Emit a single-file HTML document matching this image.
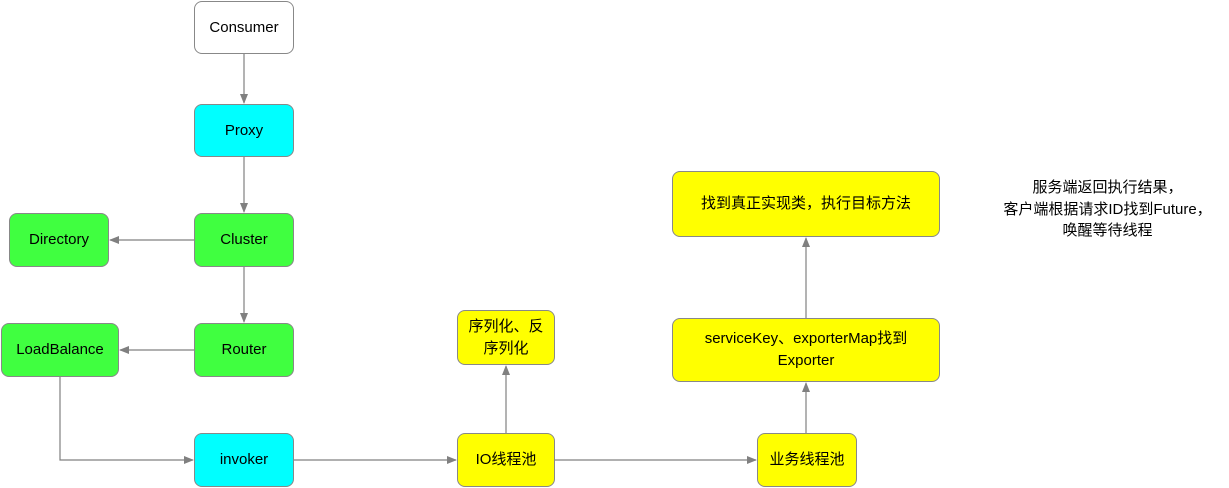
<!DOCTYPE html>
<html><head><meta charset="utf-8"><style>
body{margin:0;width:1229px;height:488px;background:#fff;position:relative;font-family:"Liberation Sans","Noto Sans CJK SC",sans-serif;overflow:hidden}
.b{position:absolute;box-sizing:border-box;border:1px solid #888;border-radius:8px;display:flex;align-items:center;justify-content:center;text-align:center;font-size:15px;color:#000;line-height:22px}
.w{background:#fff}.c{background:#00ffff}.g{background:#40ff40}.y{background:#ffff00}
svg{position:absolute;left:0;top:0}
.t{position:absolute;left:985px;top:177px;width:245px;text-align:center;font-size:15px;line-height:21.5px}
</style></head><body>
<svg width="1229" height="488">
<defs><marker id="a" markerWidth="10" markerHeight="8" refX="9" refY="4" orient="auto" markerUnits="userSpaceOnUse"><path d="M0,0L10,4L0,8z" fill="#808080"/></marker></defs>
<g stroke="#808080" stroke-width="1.2" fill="none" marker-end="url(#a)">
<path d="M244 54V103"/>
<path d="M244 157V212"/>
<path d="M244 267V322"/>
<path d="M194 240H110"/>
<path d="M194 350H120"/>
<path d="M60 377V460H193"/>
<path d="M294 460H456"/>
<path d="M555 460H756"/>
<path d="M506 433V366"/>
<path d="M806 433V383"/>
<path d="M806 318V238"/>
</g></svg>
<div class="b w" style="left:194px;top:1px;width:100px;height:53px">Consumer</div>
<div class="b c" style="left:194px;top:104px;width:100px;height:53px">Proxy</div>
<div class="b g" style="left:194px;top:213px;width:100px;height:54px">Cluster</div>
<div class="b g" style="left:9px;top:213px;width:100px;height:54px">Directory</div>
<div class="b g" style="left:1px;top:323px;width:118px;height:54px">LoadBalance</div>
<div class="b g" style="left:194px;top:323px;width:100px;height:54px">Router</div>
<div class="b c" style="left:194px;top:433px;width:100px;height:54px">invoker</div>
<div class="b y" style="left:457px;top:433px;width:98px;height:54px">IO线程池</div>
<div class="b y" style="left:457px;top:310px;width:98px;height:55px">序列化、反<br>序列化</div>
<div class="b y" style="left:757px;top:433px;width:100px;height:54px">业务线程池</div>
<div class="b y" style="left:672px;top:318px;width:268px;height:64px">serviceKey、exporterMap找到<br>Exporter</div>
<div class="b y" style="left:672px;top:171px;width:268px;height:66px">找到真正实现类，执行目标方法</div>
<div class="t">服务端返回执行结果，<br>客户端根据请求ID找到Future，<br>唤醒等待线程</div>
</body></html>
